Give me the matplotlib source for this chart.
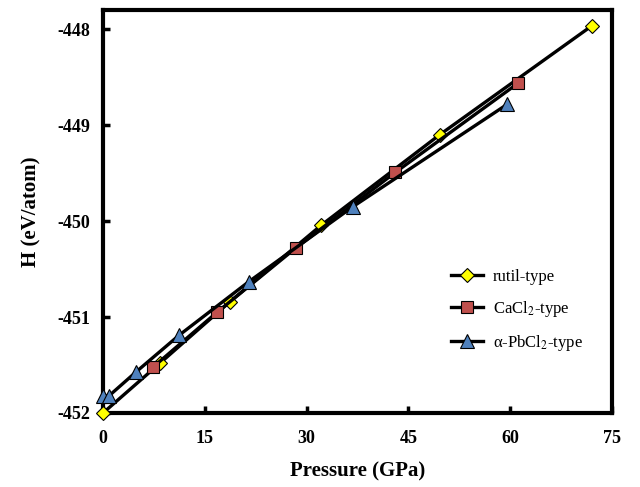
import matplotlib.pyplot as plt

plt.rcParams['font.family'] = ['Liberation Serif', 'DejaVu Serif']
plt.rcParams['mathtext.fontset'] = 'stix'

# data
p_rutil = [0, 8.4, 18.7, 32.2, 49.6, 72.1]
h_rutil = [-452.0, -451.48, -450.84, -450.04, -449.10, -447.96]

p_cacl2 = [7.4, 16.8, 28.4, 43.1, 61.2]
h_cacl2 = [-451.52, -450.95, -450.28, -449.49, -448.56]

p_pbcl2 = [0, 0.9, 4.9, 11.2, 21.5, 36.8, 59.6]
h_pbcl2 = [-451.82, -451.82, -451.57, -451.19, -450.63, -449.85, -448.78]

fig = plt.figure(figsize=(6.4, 4.87), dpi=100)
ax = fig.add_axes([0.161, 0.152, 0.795, 0.827])

ax.plot(p_rutil, h_rutil, color='black', lw=2.4, marker='D', ms=7.5,
        mfc='#ffff00', mec='black', mew=0.8, label='rutil-type', zorder=2,
        clip_on=False)
ax.plot(p_cacl2, h_cacl2, color='black', lw=2.4, marker='s', ms=9,
        mfc='#c0504d', mec='black', mew=0.8, label='CaCl$_2$-type', zorder=3,
        clip_on=False)
ax.plot(p_pbcl2, h_pbcl2, color='black', lw=2.4, marker='^', ms=10,
        mfc='#4f81bd', mec='black', mew=0.8, label='\u03b1-PbCl$_2$-type', zorder=4,
        clip_on=False)

ax.set_xlim(0, 75)
ax.set_ylim(-452, -447.8)
ax.set_xticks([0, 15, 30, 45, 60, 75])
ax.set_yticks([-452, -451, -450, -449, -448])
ax.set_yticklabels(['-452', '-451', '-450', '-449', '-448'])

for s in ax.spines.values():
    s.set_linewidth(3)
    s.set_zorder(1)
ax.tick_params(direction='in', length=5, width=2.5, labelsize=13)
ax.tick_params(axis='x', pad=12)
ax.tick_params(axis='y', pad=9)
for lab in ax.get_xticklabels() + ax.get_yticklabels():
    lab.set_fontweight('bold')

ax.set_xlabel('Pressure (GPa)', fontsize=15, fontweight='bold', labelpad=11)
ax.set_ylabel('H (eV/atom)', fontsize=15, fontweight='bold', labelpad=12)

ax.legend(loc='center left', bbox_to_anchor=(0.655, 0.253), frameon=False,
          fontsize=12, handlelength=1.9, handletextpad=0.6, labelspacing=0.85)

fig.savefig('out.png', dpi=100)
